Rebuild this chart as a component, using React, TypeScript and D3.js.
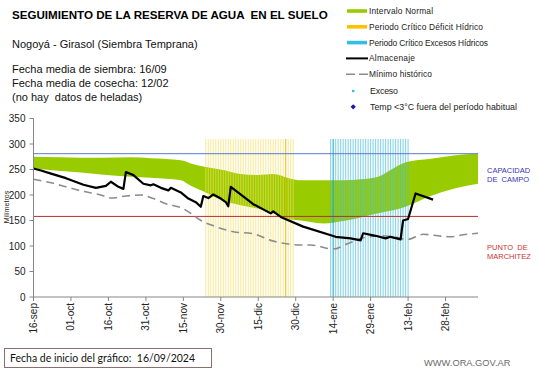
import React from "react";
import * as d3 from "d3";

const tickLabels = ["16-sep", "01-oct", "16-oct", "31-oct", "15-nov", "30-nov", "15-dic", "30-dic", "14-ene", "29-ene", "13-feb", "28-feb"];
const tickDays = [0, 15, 30, 45, 60, 75, 90, 105, 120, 135, 150, 165];
const yTicks = [0, 50, 100, 150, 200, 250, 300, 350];

const bandDays = [0, 11, 19, 27, 39, 47, 59, 63, 69, 76, 83, 90, 96, 103, 107, 111, 116, 124, 131, 138, 144, 149, 159, 169, 178];
const bandUpper = [275, 274, 273, 273, 274, 272, 268, 262, 255, 249, 241, 239, 241, 232, 229, 229, 229, 229, 231, 236, 252, 264, 271, 278, 281];
const bandLower = [252, 247, 244, 240, 236, 234, 229, 218, 205, 188, 180, 173, 164, 152, 150, 147, 144, 149, 156, 164, 170, 177, 198, 213, 222];

const storageDays = [0, 3, 7, 13, 20, 25, 27, 29, 31, 34, 36, 37, 40, 44, 47, 48, 51, 54, 55, 59, 62, 65, 67, 68, 70, 72, 75, 77, 78, 79, 88, 95, 96, 99, 108, 121, 127, 131, 132, 137, 141, 143, 147, 148, 150, 153, 160];
const storageValues = [252, 248, 242, 233, 220, 214, 216, 218, 226, 216, 212, 245, 239, 222, 219, 221, 214, 209, 214, 205, 193, 186, 177, 198, 194, 201, 193, 186, 178, 216, 182, 164, 168, 157, 138, 118, 115, 111, 125, 120, 115, 118, 113, 150, 153, 203, 191];

const minDays = [0, 7, 13, 20, 27, 31, 37, 43, 48, 53, 60, 63, 67, 73, 80, 88, 95, 102, 107, 111, 120, 126, 132, 140, 145, 150, 156, 162, 167, 172, 178];
const minValues = [231, 224, 216, 207, 200, 194, 198, 200, 193, 183, 173, 164, 150, 138, 128, 124, 111, 104, 102, 102, 94, 105, 116, 120, 117, 113, 123, 120, 118, 122, 125];

const fieldCapacity = 281;
const wiltingPoint = 158;
const deficitPeriod = [69, 104];
const excessPeriod = [119, 150];
const emphasisDays = [101, 120];
const periodTop = 310;

const legendLabels = [
  "Intervalo Normal",
  "Periodo Crítico Déficit Hídrico",
  "Periodo Crítico Excesos Hídricos",
  "Almacenaje",
  "Mínimo histórico",
  "Exceso",
  "Temp <3°C fuera del período habitual",
];
const legendKinds = ["band", "band", "band", "line", "dash", "dot", "diamond"];
const legendColors = ["#99cc00", "#ffc000", "#33bde8", "#000000", "#8c8c8c", "#33bde8", "#1a1aa8"];
// rendered text widths in the reference legend (style)
const legendTextWidths = [64, 114, 119, 46, 63, 28, 147];

const FONT = "'Liberation Sans', Arial, sans-serif";

export default function App() {
  const x = d3.scaleLinear().domain([0, 178]).range([33.5, 478]);
  const y = d3.scaleLinear().domain([0, 350]).range([297, 118.5]);

  const bandData = bandDays.map((d, i) => ({ d, u: bandUpper[i], l: bandLower[i] }));
  const area = d3
    .area<{ d: number; u: number; l: number }>()
    .x((p) => x(p.d))
    .y0((p) => y(p.l))
    .y1((p) => y(p.u))
    .curve(d3.curveMonotoneX);

  const line = d3
    .line<[number, number]>()
    .x((p) => x(p[0]))
    .y((p) => y(p[1]));

  const storage: [number, number][] = storageDays.map((d, i) => [d, storageValues[i]]);
  const minimum: [number, number][] = minDays.map((d, i) => [d, minValues[i]]);
  const minLine = d3
    .line<[number, number]>()
    .x((p) => x(p[0]))
    .y((p) => y(p[1]))
    .curve(d3.curveMonotoneX);

  const deficitLines = d3.range(deficitPeriod[0], deficitPeriod[1] + 1);
  const excessLines = d3.range(excessPeriod[0], excessPeriod[1] + 1);

  const legendX = 347;
  const legendY0 = 11;
  const legendStep = 15.8;

  return (
    <svg
      width={541}
      height={368}
      style={{ position: "absolute", left: 0, top: 0, background: "#fff" }}
      fontFamily={FONT}
    >
      <rect x={0} y={0} width={541} height={368} fill="#fff" />
      {/* Title block */}
      <text x={12} y={19} fontSize={11.6} fontWeight="bold" fill="#000" style={{ whiteSpace: "pre" }}>
        {"SEGUIMIENTO DE LA RESERVA DE AGUA  EN EL SUELO"}
      </text>
      <text x={12} y={48} fontSize={11} fill="#111">Nogoyá - Girasol (Siembra Temprana)</text>
      <text x={12} y={73} fontSize={11} fill="#111">Fecha media de siembra: 16/09</text>
      <text x={12} y={87} fontSize={11} fill="#111">Fecha media de cosecha: 12/02</text>
      <text x={12} y={101} fontSize={11} fill="#111" style={{ whiteSpace: "pre" }}>{"(no hay  datos de heladas)"}</text>

      {/* Legend */}
      {legendLabels.map((lab, i) => {
        const ly = legendY0 + i * legendStep + (i >= 5 ? 1 : 0);
        const kind = legendKinds[i];
        const col = legendColors[i];
        return (
          <g key={lab}>
            {kind === "band" && <rect x={legendX} y={ly - 1.8} width={20} height={3.6} fill={col} />}
            {kind === "line" && <line x1={legendX - 1} x2={legendX + 21} y1={ly} y2={ly} stroke={col} strokeWidth={2} />}
            {kind === "dash" && (
              <line x1={legendX - 1} x2={legendX + 21} y1={ly} y2={ly} stroke={col} strokeWidth={1.5} strokeDasharray="9,4" />
            )}
            {kind === "dot" && <rect x={legendX + 5} y={ly - 1.2} width={2.4} height={2.4} fill={col} />}
            {kind === "diamond" && (
              <path d={`M${legendX + 6.2},${ly - 2.6}L${legendX + 8.8},${ly}L${legendX + 6.2},${ly + 2.6}L${legendX + 3.6},${ly}Z`} fill={col} />
            )}
            <text
              x={i >= 5 ? legendX + 23 : legendX + 22}
              y={ly + 3}
              fontSize={i >= 5 ? 8.8 : 8.4}
              fill="#222"
              textLength={legendTextWidths[i]}
              lengthAdjust="spacing"
            >
              {lab}
            </text>
          </g>
        );
      })}

      {/* Normal interval band */}
      <path d={area(bandData) || ""} fill="#99cc00" />

      {/* Critical periods */}
      {deficitLines.map((d) => (
        <line
          key={"def" + d}
          x1={x(d)}
          x2={x(d)}
          y1={y(0)}
          y2={y(periodTop)}
          stroke={emphasisDays.includes(d) ? "#e0c000" : "#f3df5e"}
          strokeOpacity={emphasisDays.includes(d) ? 0.9 : 0.62}
          strokeWidth={1.1}
        />
      ))}
      {excessLines.map((d) => (
        <line
          key={"exc" + d}
          x1={x(d)}
          x2={x(d)}
          y1={y(0)}
          y2={y(periodTop)}
          stroke={emphasisDays.includes(d) ? "#1aa6c8" : "#45bfdb"}
          strokeOpacity={emphasisDays.includes(d) ? 0.95 : 0.65}
          strokeWidth={1.1}
        />
      ))}

      {/* Reference lines */}
      <line x1={x(0)} x2={x(178)} y1={y(fieldCapacity)} y2={y(fieldCapacity)} stroke="#5b7bd0" strokeWidth={1} />
      <line x1={x(0)} x2={x(178)} y1={y(wiltingPoint)} y2={y(wiltingPoint)} stroke="#b83030" strokeWidth={1} />

      {/* Minimum historic */}
      <path d={minLine(minimum) || ""} fill="none" stroke="#8c8c8c" strokeWidth={1.6} strokeDasharray="8,5" />

      {/* Storage */}
      <path d={line(storage) || ""} fill="none" stroke="#000" strokeWidth={2.2} strokeLinejoin="round" />

      {/* Axes */}
      <line x1={x(0)} x2={x(0)} y1={y(0)} y2={y(350)} stroke="#868686" strokeWidth={1} />
      <line x1={x(0)} x2={x(178)} y1={y(0)} y2={y(0)} stroke="#868686" strokeWidth={1} />
      {yTicks.map((t) => (
        <g key={"yt" + t}>
          <line x1={x(0) - 4} x2={x(0)} y1={y(t)} y2={y(t)} stroke="#868686" />
          <text x={25.5} y={y(t) + 3.5} fontSize={10} textAnchor="end" fill="#222">
            {t}
          </text>
        </g>
      ))}
      {tickDays.map((d, i) => (
        <g key={"xt" + d}>
          <line x1={x(d)} x2={x(d)} y1={y(0)} y2={y(0) + 4} stroke="#868686" />
          <text
            transform={`translate(${x(d) + 3.5},${y(0) + 6}) rotate(-90)`}
            fontSize={10}
            textAnchor="end"
            fill="#222"
          >
            {tickLabels[i]}
          </text>
        </g>
      ))}
      <text transform={`translate(9,207) rotate(-90)`} fontSize={7} textAnchor="middle" fill="#222">
        Milímetros
      </text>

      {/* Right-side annotations */}
      <text x={487} y={172.5} fontSize={7.5} fill="#3535b5">CAPACIDAD</text>
      <text x={487} y={182} fontSize={7.5} fill="#3535b5" style={{ whiteSpace: "pre" }}>{"DE  CAMPO"}</text>
      <text x={487} y={249.5} fontSize={7.5} fill="#cc3333" style={{ whiteSpace: "pre" }}>{"PUNTO  DE"}</text>
      <text x={487} y={258.5} fontSize={7.5} fill="#cc3333">MARCHITEZ</text>

      {/* Footer */}
      <rect x={4.5} y={348.5} width={207} height={19} fill="#fff" stroke="#8b6f6f" strokeWidth={1} />
      <text x={10} y={362} fontSize={10.5} fill="#111" fontFamily="Lato, 'Open Sans', sans-serif" style={{ whiteSpace: "pre" }}>
        {"Fecha de inicio del gráfico:  16/09/2024"}
      </text>
      <text x={424} y={365.5} fontSize={9.3} fill="#6a6a6a">WWW.ORA.GOV.AR</text>
    </svg>
  );
}
